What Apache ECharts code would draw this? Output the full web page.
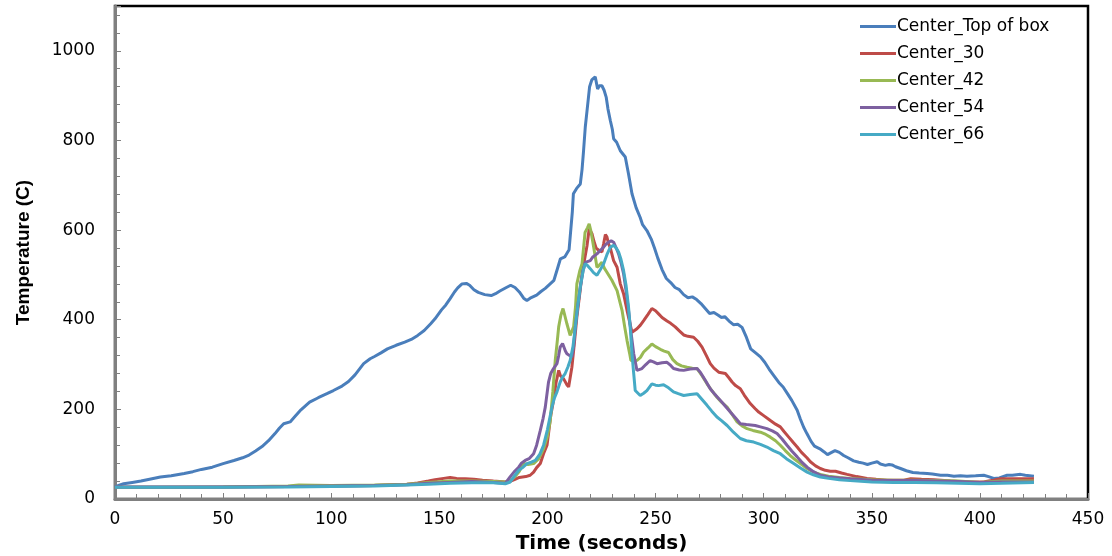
<!DOCTYPE html>
<html>
<head>
<meta charset="utf-8">
<script src="https://cdn.jsdelivr.net/npm/echarts@6/dist/echarts.min.js"></script>
<style>html,body{margin:0;padding:0;background:#fff;}#c{width:1112px;height:556px;}</style>
</head>
<body>
<div id="c"></div>
<script>
var seriesNames = ['Center_Top of box', 'Center_30', 'Center_42', 'Center_54', 'Center_66'];
var yTickLabels = [0, 200, 400, 600, 800, 1000];
var xTickLabels = [0, 50, 100, 150, 200, 250, 300, 350, 400, 450];

var topOfBox = [[0,27],[2,31],[4,34],[8,37],[12,40],[16,44],[21,49],[26,52],[32,57],[36,61],[40,66],[45,71],[50,79],[55,86],[59,92],[62,98],[65,107],[68,117],[71,130],[74,146],[76,158],[78,168],[81,172],[83,183],[86,199],[90,216],[94,226],[98,235],[101,242],[105,252],[108,262],[111,277],[115,302],[118,313],[120,318],[123,326],[126,335],[130,343],[134,350],[137,356],[140,365],[143,376],[146,391],[148,402],[151,422],[153,433],[155,447],[157,462],[158.5,471],[160.5,480],[162.5,481],[164,477],[166,467],[168,461],[171,456],[174,454],[176,458],[178,464],[181,472],[183,477],[185,472],[187,462],[189,448],[190.5,443],[192,448],[195,455],[197,463],[199,470],[201,479],[203,488],[205,520],[206,536],[208,540],[210,556],[211.5,640],[212,681],[213.5,693],[215.2,703],[216,735],[216.7,777],[217.5,830],[218.3,866],[219.5,920],[220.5,935],[222.1,942],[223.2,915],[224,922],[225.2,922],[226.2,912],[227.2,896],[228,870],[229.1,844],[230,825],[230.6,804],[232,796],[233.7,777],[236,763],[237.5,725],[239.1,681],[241,650],[242.9,628],[244,612],[246,599],[248,580],[249.5,560],[251,538],[253,512],[255,492],[257,483],[259,472],[261,467],[263,456],[265,449],[267,451],[269,445],[271,436],[273,425],[275,414],[277,416],[279,410],[280.5,405],[282,407],[284,397],[286,389],[288,390],[290,383],[292,361],[294,335],[296,327],[298.5,317],[300.5,305],[302.5,290],[304.6,276],[307,260],[309,250],[311,235],[313,220],[315.5,198],[317,178],[318.5,160],[320,146],[322,128],[323.5,118],[326,112],[328,105],[329.5,99],[331,103],[333,108],[335,104],[337,97],[339,92],[341.6,85],[344,82],[346,80],[348,77],[350,80],[352.5,83],[354,78],[356.3,75],[358,77],[359.4,76],[361,72],[363.3,68],[366,63],[369,59],[372,58],[375.6,57],[378,56],[381.8,53],[385,53],[388,51],[391,52],[394,51],[398,52],[401.8,53],[404,50],[406.4,46],[409,47],[412.6,53],[415,53],[418.8,55],[421,53],[425,51]];

var center30 = [[0,26],[20,26],[50,27],[80,28],[100,29],[120,30],[135,33],[140,36],[145,40],[148,43],[152,46],[155,48],[158,46],[162,45],[166,44],[170,42],[175,40],[180.5,38],[183,40],[185,44],[187,48],[190,50],[192,53],[193.6,60],[195,70],[196.7,79],[198.2,101],[199.8,120],[200.5,146],[201.5,185],[202.8,220],[204,260],[205.2,287],[206,275],[207.5,268],[209,255],[209.8,250],[211.3,294],[212.5,350],[213.6,406],[215,460],[216,503],[217,530],[218.3,565],[219.3,603],[220.6,592],[221.5,575],[222.5,560],[223.7,555],[225.2,551],[226,570],[226.8,590],[227.5,585],[228.3,569],[229.1,560],[230.6,532],[232.2,517],[233.7,480],[235.2,458],[236.8,421],[238,395],[239.1,372],[241.4,380],[243,388],[244.5,398],[246.5,412],[248.3,425],[250,420],[251.4,413],[253,405],[255.3,397],[257,392],[259.1,384],[261,375],[263,366],[265,363],[267.6,361],[269.5,352],[271.5,339],[273.5,320],[275.3,302],[277,292],[279.2,283],[282.3,280],[284,270],[285.4,261],[287,253],[289.2,246],[291,232],[293.8,213],[296,202],[297.7,194],[300,186],[303.1,175],[305.5,167],[307.7,161],[309.5,150],[311.6,138],[313.5,127],[315.5,116],[317.5,104],[320,92],[321.6,83],[324,74],[326.2,68],[328.5,64],[330.8,62],[333.2,62],[336,58],[338.6,55],[343,50],[347.8,46],[352,44],[357.1,42],[361,42],[364.8,42],[368,45],[373,44],[378.7,43],[382,42],[386.4,40],[390,39],[394.1,38],[398,38],[401.8,38],[404,40],[406.4,42],[409.5,45],[415,45],[420,45],[425,45]];

var center42 = [[0,26],[20,26],[50,27],[80,29],[85,31],[100,30],[120,31],[135,33],[145,37],[155,40],[165,40],[175,39],[180.5,38],[183,42],[185,50],[187,62],[188.9,79],[191,77],[193.6,79],[196,90],[198.2,112],[200,140],[201.3,175],[202.5,240],[203.6,309],[204.5,350],[205.2,384],[206.2,410],[207.2,425],[208,410],[209,391],[210.5,365],[212.1,384],[213,430],[213.6,480],[215,510],[216,525],[217.4,595],[218.5,605],[219.3,614],[220,600],[220.6,584],[221.8,550],[222.9,517],[224,522],[225.2,528],[226.3,515],[227.5,506],[229.8,488],[232.2,465],[233.5,440],[234.5,421],[235.7,385],[236.8,354],[238,325],[238.6,309],[241.4,309],[243,316],[244.5,328],[246.5,337],[248.3,346],[250,340],[252.2,334],[254,330],[256,327],[258,311],[259.9,302],[262,297],[264.6,294],[267,292],[269.2,291],[271.5,275],[273.8,257],[276,242],[278.4,227],[280.5,216],[283.1,205],[285.5,188],[287.7,172],[290,163],[292.3,157],[295,153],[298.5,149],[301,144],[303.1,138],[305.5,130],[307.7,120],[310,108],[312.3,97],[314.5,88],[317,79],[320,68],[323.1,60],[326.2,55],[330,51],[335,48],[340,46],[350,43],[360,42],[370,42],[380,41],[390,40],[400,37],[410,40],[425,40]];

var center54 = [[0,27],[20,27],[50,27],[80,28],[100,29],[120,30],[135,32],[145,35],[155,37],[165,39],[175,37],[180.5,35],[182.8,50],[184.5,60],[186.7,71],[188,80],[189.7,86],[191.5,90],[193.6,101],[195,120],[196.7,153],[198,180],[199,205],[200.5,261],[201.5,280],[202.8,291],[204.4,302],[205.2,320],[205.9,339],[207,347],[207.5,346],[208.3,330],[209,324],[211.3,317],[212.1,340],[212.9,384],[214,430],[215.2,473],[216.5,510],[217.5,528],[219.8,532],[221,540],[222.9,547],[224.5,555],[226,562],[227,568],[228.3,573],[229.5,576],[230.6,573],[231.8,560],[232.9,547],[234,528],[235.2,503],[236.5,460],[237.5,421],[238.7,370],[239.9,324],[241.4,287],[243.7,291],[245.5,300],[247.5,309],[249,306],[250.7,302],[253,304],[255.3,305],[257,298],[258.3,291],[261,288],[263,287],[266,290],[269.2,291],[270.7,283],[273,265],[275.3,246],[277.5,233],[280,220],[282.3,207],[284.6,194],[287,181],[289.2,168],[292,166],[296.1,164],[298.5,161],[301.5,157],[304,152],[306.2,146],[308.5,134],[310.8,120],[313,107],[315.5,94],[317.5,83],[320.1,71],[323,61],[326.2,53],[330,49],[335,47],[340,45],[350,42],[360,41],[370,41],[380,40],[390,39],[400,37],[410,38],[425,38]];

var center66 = [[0,26],[20,26],[50,26],[80,27],[100,28],[120,29],[135,31],[145,33],[155,35],[165,36],[175,36],[180.5,34],[182.8,38],[184.5,50],[186.7,64],[188.5,70],[190.5,79],[192.5,82],[194.4,86],[196.5,100],[198.2,120],[200,155],[202.1,205],[203.2,225],[204.4,239],[205.9,261],[207,272],[208.2,280],[209.5,295],[210.5,309],[211.8,340],[212.9,384],[214,430],[215.2,473],[216.5,510],[217.5,525],[218.7,520],[219.8,514],[221.3,505],[222.9,499],[224.5,512],[226,525],[227.5,545],[229.1,562],[230.6,566],[231.8,560],[232.9,551],[234,535],[235.2,510],[236.4,475],[237.5,428],[238.4,375],[239.1,324],[239.9,280],[240.6,242],[242.9,231],[244.5,236],[246,242],[248.3,257],[250,254],[251.4,253],[253.7,255],[256,248],[258.3,239],[260.5,235],[263,231],[266,233],[269.2,235],[271.5,222],[273.8,209],[276,196],[278.4,183],[280.5,175],[283.1,164],[286,149],[289.2,135],[292,130],[295.4,127],[298.5,122],[301.5,116],[304.5,108],[307.7,101],[310.5,90],[313.9,79],[317,69],[320.1,60],[323,54],[326.2,49],[330,46],[335,43],[340,41],[350,38],[360,37],[370,37],[380,36],[390,35],[400,34],[410,35],[425,37]];

var seriesData = [topOfBox, center30, center42, center54, center66];
var colors = ['#4A7EBB', '#BE4B48', '#98B954', '#7D60A0', '#46AAC5'];

var chart = echarts.init(document.getElementById('c'), null, {renderer: 'canvas'});
var option = {
  animation: false,
  backgroundColor: '#fff',
  color: colors,
  grid: {left: 115, right: 24, top: 6, bottom: 57, containLabel: false, outerBoundsMode: 'none',
    show: true, borderColor: '#000', borderWidth: 2.5, backgroundColor: 'transparent'},
  legend: {
    orient: 'vertical', left: 855, top: 13, itemWidth: 36, itemHeight: 12, itemGap: 10,
    icon: 'path://M0,5 L36,5 L36,8 L0,8 Z',
    textStyle: {fontFamily: 'DejaVu Sans', fontSize: 17, color: '#000', padding: [0,0,0,-4]},
    data: seriesNames
  },
  xAxis: {
    type: 'value', min: 0, max: 450, interval: 50,
    name: 'Time (seconds)', nameLocation: 'middle', nameGap: 35,
    nameTextStyle: {fontFamily: 'DejaVu Sans', fontWeight: 'bold', fontSize: 20, color: '#000'},
    axisLine: {show: true, lineStyle: {color: '#808080', width: 3}},
    axisTick: {show: true, inside: true, length: 6, lineStyle: {color: '#808080', width: 1}},
    minorTick: {show: true, splitNumber: 5, length: 5, lineStyle: {color: '#808080', width: 1}},
    axisLabel: {fontFamily: 'DejaVu Sans', fontSize: 17, color: '#000', margin: 12,
      formatter: function(v){ return xTickLabels.indexOf(v) >= 0 ? String(v) : ''; }},
    splitLine: {show: false}
  },
  yAxis: {
    type: 'value', min: 0, max: 1100, interval: 200,
    name: 'Temperature (C)', nameLocation: 'middle', nameGap: 82, nameRotate: 90,
    nameTextStyle: {fontFamily: 'Liberation Sans', fontWeight: 'bold', fontSize: 19, color: '#000'},
    axisLine: {show: true, lineStyle: {color: '#808080', width: 3}},
    axisTick: {show: true, inside: true, length: 6, lineStyle: {color: '#808080', width: 1}},
    minorTick: {show: true, splitNumber: 5, length: 5, lineStyle: {color: '#808080', width: 1}},
    axisLabel: {fontFamily: 'DejaVu Sans', fontSize: 17, color: '#000', margin: 20, showMaxLabel: false,
      formatter: function(v){ return yTickLabels.indexOf(v) >= 0 ? String(v) : ''; }},
    splitLine: {show: false}
  },
  series: seriesNames.map(function(n, i){
    return {name: n, type: 'line', data: seriesData[i], symbol: 'none', showSymbol: false,
      lineStyle: {width: 3, color: colors[i]}, itemStyle: {color: colors[i]}, z: 2 + i};
  })
};
chart.setOption(option);
</script>
</body>
</html>
